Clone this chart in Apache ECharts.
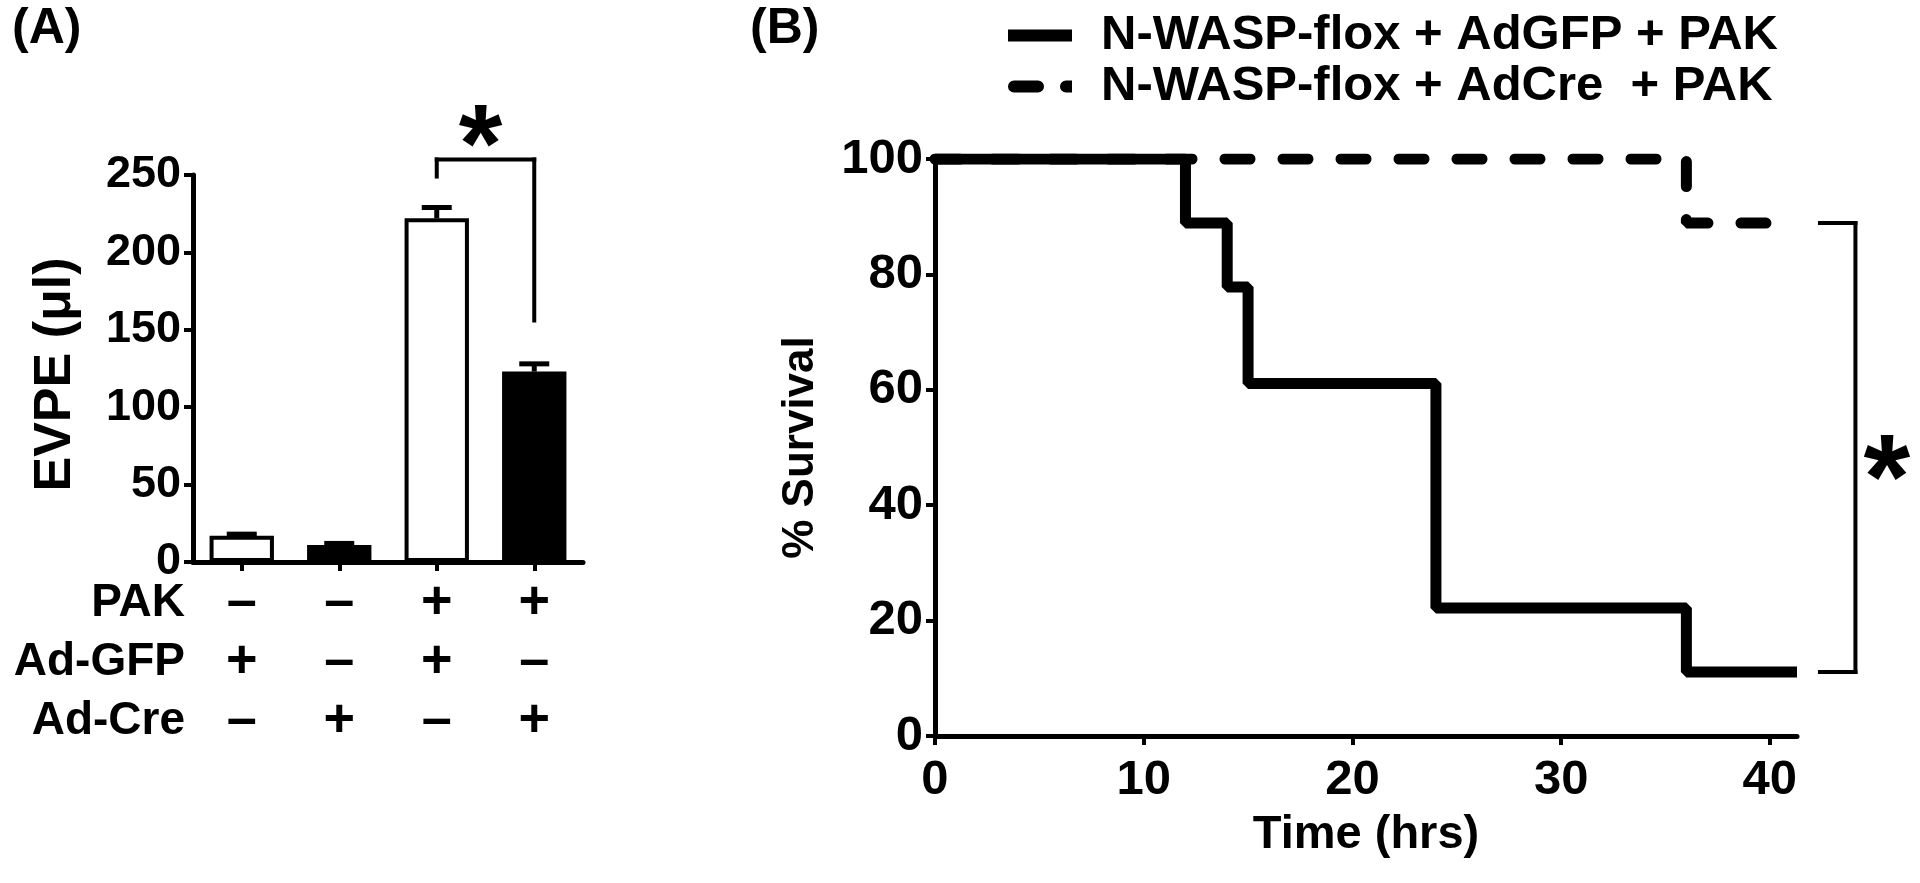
<!DOCTYPE html>
<html><head><meta charset="utf-8">
<script src="https://cdn.jsdelivr.net/npm/echarts@6/dist/echarts.min.js"></script>
<style>html,body{margin:0;padding:0;background:#fff}#c{width:1920px;height:883px}</style>
</head><body><div id="c"></div>
<script>
// ---------- Panel A data ----------
const categories = ['1', '2', '3', '4'];
const rowNames = ['PAK', 'Ad-GFP', 'Ad-Cre'];
const pakRow = ['–', '–', '+', '+'];
const gfpRow = ['+', '–', '+', '–'];
const creRow = ['–', '+', '–', '+'];
const evpeMean = [17, 11, 222, 123];
const evpeErr = [1, 1, 7, 5];
const evpeTicks = [0, 50, 100, 150, 200, 250];

// ---------- Panel B data ----------
const legendNames = ['N-WASP-flox + AdGFP + PAK', 'N-WASP-flox + AdCre  + PAK'];
const survivalGfp = [[0, 100], [12, 88.9], [14, 77.8], [15, 61.1], [24, 22.2], [36, 11.1], [41.3, 11.1]];
const survivalCre = [[0, 100], [36, 88.9], [41.3, 88.9]];
const timeTicks = [0, 10, 20, 30, 40];
const survivalTicks = [0, 20, 40, 60, 80, 100];

const FONT = '"Liberation Sans", Arial, Helvetica, sans-serif';
const BLACK = '#000';

// significance bracket A (connects bar 3 and bar 4), segments in data units
const bA_left = evpeMean[2] + evpeErr[2] + 20;
const bA_top = bA_left + 11;
const bA_right = evpeMean[3] + evpeErr[3] + 28;
const bracketA = [[2.5, bA_left, 2.5, bA_top], [2.5, bA_top, 3.5, bA_top], [3.5, bA_top, 3.5, bA_right]];
const starA = [[2.95, 281]];
// significance bracket B (connects final survival levels)
const lastCre = survivalCre[survivalCre.length - 1][1];
const lastGfp = survivalGfp[survivalGfp.length - 1][1];
const bracketB = [[42.4, lastCre, 44.1, lastCre], [44.1, lastCre, 44.1, lastGfp], [44.1, lastGfp, 42.4, lastGfp]];
const starB = [[45.6, 48]];

const chart = echarts.init(document.getElementById('c'), null, { renderer: 'canvas' });

const axisLineStyle = { show: true, lineStyle: { color: BLACK, width: 5 } };
const tickStyle = { show: true, length: 9, lineStyle: { color: BLACK, width: 4 } };

function segmentSeries(xi, yi, data) {
  return {
    type: 'custom', xAxisIndex: xi, yAxisIndex: yi, data: data, clip: false, silent: true, z: 5,
    renderItem: (params, api) => {
      const a = api.coord([api.value(0), api.value(1)]);
      const b = api.coord([api.value(2), api.value(3)]);
      return { type: 'line', shape: { x1: a[0], y1: a[1], x2: b[0], y2: b[1] },
        style: { stroke: BLACK, lineWidth: 4, lineCap: 'square' } };
    }
  };
}
function starSeries(xi, yi, data, size) {
  return {
    type: 'custom', xAxisIndex: xi, yAxisIndex: yi, data: data, clip: false, silent: true, z: 5,
    renderItem: (params, api) => {
      const p = api.coord([api.value(0), api.value(1)]);
      return { type: 'text', x: p[0], y: p[1] + size * 0.215,
        style: { text: '*', font: 'bold ' + size + 'px ' + FONT, fill: BLACK, align: 'center', verticalAlign: 'middle' } };
    }
  };
}

const option = {
  animation: false,
  backgroundColor: '#fff',
  textStyle: { fontFamily: FONT, fontWeight: 'bold', color: BLACK },
  grid: [
    { left: 193, top: 175, width: 390, height: 387 },
    { left: 935, top: 159, width: 862, height: 577 }
  ],
  legend: {
    data: [
      { name: legendNames[0], icon: 'rect' },
      { name: legendNames[1], icon: 'path://M6,0H30A6,6 0 0 1 30,12H6A6,6 0 0 1 6,0Z M58,0H64V12H58A6,6 0 0 1 58,0Z' }
    ],
    orient: 'vertical',
    left: 1003,
    top: 6,
    itemWidth: 64,
    itemHeight: 12,
    itemGap: 2,
    selectedMode: false,
    itemStyle: { color: BLACK, borderWidth: 0 },
    textStyle: { fontSize: 49, fontWeight: 'bold', fontFamily: FONT, color: BLACK, padding: [0, 0, 0, 24], lineHeight: 46 }
  },
  xAxis: [
    {
      gridIndex: 0, type: 'category', data: categories,
      axisLine: axisLineStyle,
      axisTick: Object.assign({ alignWithLabel: true }, tickStyle),
      axisLabel: {
        formatter: (v, i) => pakRow[i] + '\n' + gfpRow[i] + '\n' + creRow[i],
        fontSize: 54, lineHeight: 59, margin: 12, color: BLACK, fontWeight: 'bold', fontFamily: FONT
      },
      splitLine: { show: false }
    },
    { gridIndex: 0, type: 'value', min: 0, max: 4, show: false },
    {
      gridIndex: 1, type: 'value', min: 0, max: 41.3, interval: 10,
      name: 'Time (hrs)', nameLocation: 'middle', nameGap: 76,
      nameTextStyle: { fontSize: 47, fontWeight: 'bold', fontFamily: FONT, color: BLACK },
      axisLine: axisLineStyle,
      axisTick: Object.assign({ customValues: timeTicks }, tickStyle),
      axisLabel: { customValues: timeTicks, fontSize: 49, margin: 20, color: BLACK, fontWeight: 'bold', fontFamily: FONT },
      splitLine: { show: false }
    }
  ],
  yAxis: [
    {
      gridIndex: 0, type: 'value', min: 0, max: 250, interval: 50,
      name: 'EVPE (μl)', nameLocation: 'middle', nameGap: 111,
      nameTextStyle: { fontSize: 52, fontWeight: 'bold', fontFamily: FONT, color: BLACK, padding: [0, 12, 0, 0] },
      axisLine: axisLineStyle,
      axisTick: Object.assign({ customValues: evpeTicks }, tickStyle),
      axisLabel: { customValues: evpeTicks, fontSize: 45, margin: 12, color: BLACK, fontWeight: 'bold', fontFamily: FONT },
      splitLine: { show: false }
    },
    {
      gridIndex: 1, type: 'value', min: 0, max: 100, interval: 20,
      name: '% Survival', nameLocation: 'middle', nameGap: 112,
      nameTextStyle: { fontSize: 44, fontWeight: 'bold', fontFamily: FONT, color: BLACK },
      axisLine: axisLineStyle,
      axisTick: Object.assign({ customValues: survivalTicks }, tickStyle),
      axisLabel: { customValues: survivalTicks, fontSize: 49, margin: 12, color: BLACK, fontWeight: 'bold', fontFamily: FONT },
      splitLine: { show: false }
    }
  ],
  graphic: [
    { type: 'text', x: 12, y: 4, style: { text: '(A)', font: 'bold 50px ' + FONT, fill: BLACK, align: 'left', verticalAlign: 'top' } },
    { type: 'text', x: 750, y: 4, style: { text: '(B)', font: 'bold 50px ' + FONT, fill: BLACK, align: 'left', verticalAlign: 'top' } }
  ].concat(rowNames.map((n, i) => ({
    type: 'text', x: 185, y: 603 + i * 59,
    style: { text: n, font: 'bold 46px ' + FONT, fill: BLACK, align: 'right', verticalAlign: 'middle' }
  }))),
  series: [
    {
      type: 'bar', xAxisIndex: 0, yAxisIndex: 0, data: evpeMean, barWidth: '66%',
      itemStyle: {
        color: p => creRow[p.dataIndex] === '+' ? BLACK : '#fff',
        borderColor: BLACK, borderWidth: 4
      },
      z: 3
    },
    {
      type: 'custom', xAxisIndex: 0, yAxisIndex: 0,
      data: evpeMean.map((m, i) => [i, m, evpeErr[i]]),
      renderItem: (params, api) => {
        const i = api.value(0), m = api.value(1), e = api.value(2);
        const p0 = api.coord([i, m]);
        const p1 = api.coord([i, m + e]);
        const half = 15;
        const st = { stroke: BLACK, lineWidth: 5 };
        return {
          type: 'group', children: [
            { type: 'line', shape: { x1: p0[0], y1: p0[1], x2: p1[0], y2: p1[1] }, style: st },
            { type: 'line', shape: { x1: p1[0] - half, y1: p1[1], x2: p1[0] + half, y2: p1[1] }, style: st }
          ]
        };
      },
      z: 2
    },
    segmentSeries(1, 0, bracketA),
    starSeries(1, 0, starA, 112),
    {
      name: legendNames[1], type: 'line', xAxisIndex: 2, yAxisIndex: 1, data: survivalCre, step: 'end', symbol: 'none',
      lineStyle: { color: BLACK, width: 11, type: [25, 33], cap: 'round', join: 'bevel' },
      itemStyle: { color: BLACK }, z: 2
    },
    {
      name: legendNames[0], type: 'line', xAxisIndex: 2, yAxisIndex: 1, data: survivalGfp, step: 'end', symbol: 'none',
      lineStyle: { color: BLACK, width: 11, join: 'bevel' },
      itemStyle: { color: BLACK }, z: 3
    },
    segmentSeries(2, 1, bracketB),
    starSeries(2, 1, starB, 120)
  ]
};
chart.setOption(option);
</script>
</body></html>
